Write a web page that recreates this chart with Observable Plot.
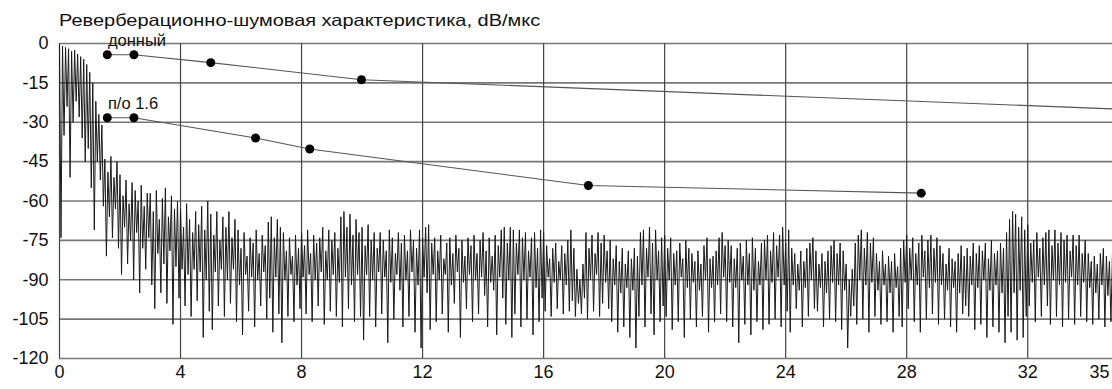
<!DOCTYPE html>
<html><head><meta charset="utf-8">
<script src="https://cdn.jsdelivr.net/npm/d3@7"></script>
<script src="https://cdn.jsdelivr.net/npm/@observablehq/plot@0.6"></script>
<style>
html,body{margin:0;padding:0;background:#fff;overflow:hidden;width:1112px;height:389px;}
#title{font-family:"Liberation Sans",Arial,sans-serif;font-size:16.5px;color:#111;position:absolute;left:59px;top:11px;white-space:nowrap;transform:scaleX(1.21);transform-origin:0 50%;}
#chart{position:absolute;left:0;top:30px;}
#chart svg{max-width:none !important;}
</style></head><body>
<div id="title"></div>
<div id="chart"></div>
<script>
const titleText = "Реверберационно-шумовая характеристика, dB/мкс";
const xTicks = [0, 4, 8, 12, 16, 20, 24, 28, 32, 35];
const yTicks = [0, -15, -30, -45, -60, -75, -90, -105, -120];

// noise trace, sample spacing 0.05 µs, one array per 5 µs
const noiseStep = 0.05;
const noiseStarts = [0, 5, 10, 15, 20, 25, 30];
const noise00_05 = [-0.5,-74,-1,-35,-1.5,-24,-2,-51,-3,-30,-2.5,-22,-4,-28,-5,-36,-6,-45,-8,-40,-11,-55,-15,-71,-22,-45,-27,-52,-31,-62,
-44,-81,-49,-66,-43,-74,-51,-63,-45,-78,
-50,-88,-58,-70,-52,-84,-61,-75,-53,-90,-56,-72,-60,-95,-54,-78,-62,-86,-57,-74,
-57,-92,-64,-101,-56,-80,-67,-95,-59,-84,-55,-99,-66,-79,-58,-107,-63,-85,-60,-97,
-63,-86,-70,-100,-61,-88,-67,-104,-72,-86,-64,-98,-69,-87,-62,-112,-71,-90,-60,-102];
const noise05_10 = [-65,-109,-73,-87,-64,-100,-75,-86,-66,-104,-70,-90,-64,-99,-74,-86,-67,-106,
-71,-92,-78,-111,-72,-88,-81,-102,-74,-89,-76,-108,-71,-90,-80,-100,-73,-87,-77,-105,
-68,-97,-66,-110,-74,-89,-67,-103,-70,-114,
-72,-90,-79,-104,-74,-88,-81,-106,-73,-92,-78,-101,
-72,-89,-77,-103,-71,-88,-80,-106,-73,-90,-76,-100,-74,-87,-70,-107,-79,-90,-71,-102,-75,-88,-72,-104,-78,-91,
-66,-108,-64,-89,-70,-101,-65,-92,-73,-106,-67,-88,-72,-104];
const noise10_15 = [-70,-113,-77,-88,-69,-104,-75,-90,-72,-108,-78,-87,
-72,-103,-75,-89,-79,-114,-71,-91,-74,-105,-80,-88,-72,-94,-76,-108,-73,-90,-79,-104,-71,-87,-75,-110,-78,-92,-71,-116,
-74,-89,-70,-95,-69,-109,-76,-88,
-74,-106,-79,-90,-73,-103,-82,-88,-76,-110,-74,-92,-80,-99,-73,-87,-78,-112,-75,-91,-81,-101,-74,-88,-77,-106,-73,-90,-80,-103,-75,-89,-72,-96,-79,-108,-74,-91,-81,-94,-73,-111,-77,-89,
-71,-97,-70,-107,-76,-90,-70,-112];
const noise15_20 = [-71,-103,-76,-88,-71,-108,
-74,-90,-72,-105,-79,-89,-74,-111,-72,-93,-78,-106,-71,-97,
-72,-102,-77,-89,-82,-104,-78,-91,-76,-101,-83,-90,-77,-103,-80,-92,-75,-102,
-71,-98,-78,-104,
-86,-99,-90,-103,-84,-97,
-72,-105,-78,-90,-73,-102,-80,-88,-72,-104,-76,-99,-73,-91,-79,-101,
-75,-106,-82,-92,-77,-110,-83,-95,-78,-108,-84,-93,-79,-112,-82,-94,-78,-116,-81,-104,
-72,-92,-71,-108,-78,-89,-70,-103,-76,-111,-71,-90,-79,-106,-74,-100];
const noise20_25 = [-73,-104,-78,-90,
-74,-109,-80,-92,-79,-106,-76,-89,-82,-112,-75,-93,-78,-105,
-80,-91,-83,-108,-79,-94,-84,-104,-77,-90,-74,-110,-82,-93,-81,-106,-79,-92,
-74,-103,-72,-89,-77,-106,-75,-91,
-77,-108,-82,-93,-78,-114,-76,-90,-81,-107,-75,-92,-80,-111,-74,-94,-78,-106,-83,-92,-76,-109,
-75,-90,-73,-107,-79,-91,-72,-105,-77,-89,-73,-108,-70,-92,-76,-102,-71,-110,
-78,-92,-80,-101,-84,-94,-79,-108,-83,-93,-78,-104,-76,-90,-74,-101];
const noise25_30 = [-79,-102,-84,-93,-80,-108,-83,-95,-79,-105,
-77,-91,-75,-106,-80,-92,-76,-109,-79,-94,
-84,-116,-90,-104,-86,-100,
-76,-107,-73,-90,-71,-105,-78,-92,-72,-110,-76,-91,-74,-104,
-80,-94,-83,-107,-79,-92,-84,-106,-81,-95,-83,-110,-80,-93,-85,-104,-78,-108,
-75,-91,-73,-101,-78,-90,-74,-106,-80,-92,-76,-110,-73,-89,-79,-105,-75,-93,-73,-103,-78,-91,-74,-107,
-77,-92,-80,-105,-84,-94,-78,-108,-82,-93,-83,-110,-80,-95,-77,-103,-81,-100];
const noise30_35 = [-78,-104,-81,-92,-76,-109,-80,-93,-77,-107,-79,-90,-76,-112,-82,-94,-75,-108,-80,-92,-79,-110,-76,-95,-78,-114,
-72,-104,-67,-110,-64,-95,-65,-113,-70,-94,-66,-112,-71,-104,
-69,-100,-76,-91,-75,-106,-72,-89,-78,-104,-74,-92,
-72,-100,-71,-107,-77,-90,-71,-104,-76,-92,-72,-108,-75,-91,
-73,-105,-79,-89,-73,-107,-77,-92,-73,-104,-80,-91,-75,-106,
-80,-93,-83,-107,-81,-95,-84,-105,-80,-92,-78,-108,-81,-96,-83,-106,-80,-94,-82,-104];

// "донный" curve
const bottomX = [1.58, 2.46, 5.0, 9.98, 35];
const bottomY = [-4.3, -4.3, -7.3, -13.8, -25];
const bottomLabel = "донный";
const bottomLabelPos = [1.6, 1.0];
// "п/о 1.6" curve
const poX = [1.58, 2.46, 6.48, 8.27, 17.48, 28.48];
const poY = [-28.3, -28.3, -36.0, -40.2, -54.1, -57.0];
const poLabel = "п/о 1.6";
const poLabelPos = [1.6, -22.8];

document.getElementById("title").textContent = titleText;

const segs = [noise00_05, noise05_10, noise10_15, noise15_20, noise20_25, noise25_30, noise30_35];
const noise = segs.flatMap((arr, k) => arr.map((v, i) => ({x: noiseStarts[k] + i * noiseStep, y: v})));
const bottom = bottomX.map((x, i) => ({x, y: bottomY[i]}));
const po = poX.map((x, i) => ({x, y: poY[i]}));
const labels = [
  {x: bottomLabelPos[0], y: bottomLabelPos[1], t: bottomLabel},
  {x: poLabelPos[0], y: poLabelPos[1], t: poLabel}
];
const lastTick = xTicks[xTicks.length - 1];

const chart = Plot.plot({
  width: 1130,
  height: 359,
  marginLeft: 59,
  marginRight: 12,
  marginTop: 13,
  marginBottom: 31,
  style: {fontFamily: '"Liberation Sans", Arial, sans-serif', fontSize: "18px", color: "#111", background: "#fff", overflow: "visible", maxWidth: "none"},
  x: {domain: [0, 35], axis: null},
  y: {domain: [-120, 0], axis: null},
  marks: [
    Plot.ruleY(yTicks, {stroke: "#777", strokeWidth: 1.6}),
    Plot.ruleX(xTicks, {stroke: "#444", strokeWidth: 1.2}),
    Plot.line(noise, {x: "x", y: "y", stroke: "#1a1a1a", strokeWidth: 1}),
    Plot.line(bottom, {x: "x", y: "y", stroke: "#555", strokeWidth: 1.1}),
    Plot.dot(bottom, {x: "x", y: "y", r: 4.5, fill: "#000", stroke: "none"}),
    Plot.line(po, {x: "x", y: "y", stroke: "#555", strokeWidth: 1.1}),
    Plot.dot(po, {x: "x", y: "y", r: 4.5, fill: "#000", stroke: "none"}),
    Plot.text(labels, {x: "x", y: "y", text: "t", textAnchor: "start", lineAnchor: "middle", fontSize: 16.5, fill: "#111", ariaLabel: "annot"}),
    Plot.axisX({ticks: xTicks.filter(d => d !== lastTick), tickSize: 0, tickPadding: 7, tickFormat: d => String(d), fontSize: 18, label: null}),
    Plot.axisX({ticks: [lastTick], tickSize: 0, tickPadding: 7, tickFormat: d => String(d), fontSize: 18, label: null, dx: -19}),
    Plot.axisY({ticks: yTicks, tickSize: 0, tickPadding: 11, tickFormat: d => String(d), fontSize: 18, label: null})
  ]
});
chart.style.maxWidth = "none";
document.getElementById("chart").appendChild(chart);
// horizontally widen the two annotation labels as in the reference
chart.querySelectorAll('g[aria-label="annot"] text').forEach(el => {
  const tx = el.getAttribute("x"), ty = el.getAttribute("y");
  let tr = el.getAttribute("transform") || "";
  if (tx !== null) { tr += ` translate(${tx},${ty || 0})`; el.removeAttribute("x"); el.removeAttribute("y"); }
  el.setAttribute("transform", tr + " scale(1.21,1)");
});
</script>
</body></html>
